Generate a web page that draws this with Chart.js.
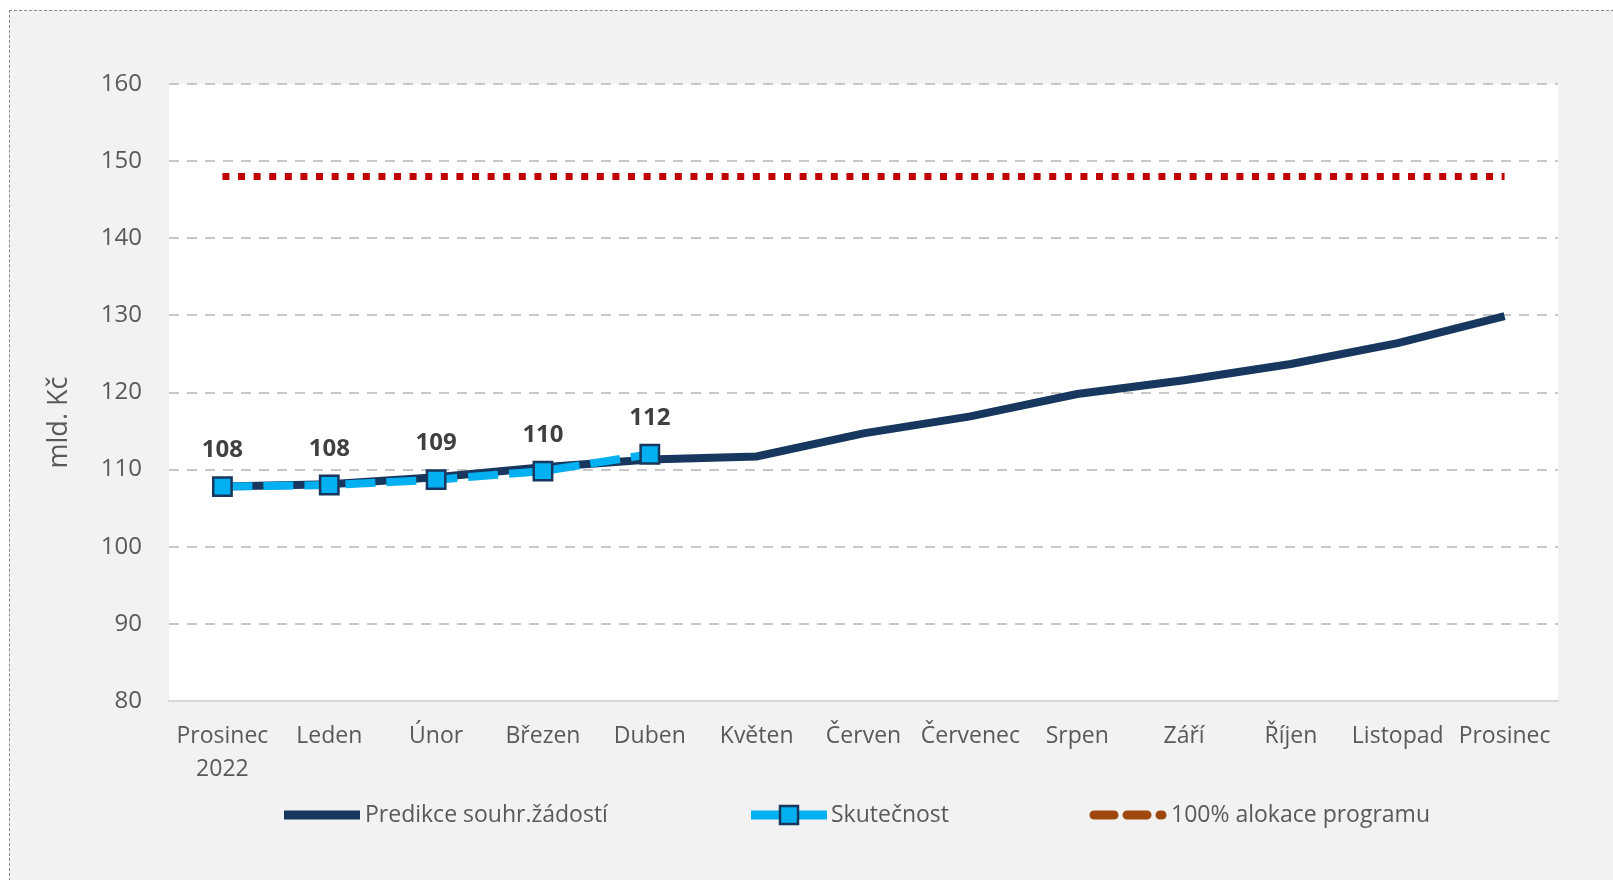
<!DOCTYPE html>
<html>
<head>
<meta charset="utf-8">
<script src="https://cdn.jsdelivr.net/npm/chart.js@4.4.1/dist/chart.umd.min.js"></script>
<style>
  html, body { margin: 0; padding: 0; background: #ffffff; overflow: hidden; }
  #frame { position: absolute; left: 9px; top: 10px; width: 1604px; height: 870px;
           border-left: 1px dashed #8c8c8c; border-top: 1px dashed #8c8c8c; background: #f2f2f2; }
  canvas { display: block; }
</style>
</head>
<body>
<div id="frame"><canvas id="chart" width="1604" height="870"></canvas></div>
<script>
// months on the x axis
const months = [['Prosinec', '2022'], 'Leden', 'Únor', 'Březen', 'Duben', 'Květen', 'Červen',
                'Červenec', 'Srpen', 'Září', 'Říjen', 'Listopad', 'Prosinec'];
// mld. Kč
const prediction = [107.8, 108.1, 109.0, 110.3, 111.3, 111.7, 114.7, 116.9, 119.8, 121.6, 123.7, 126.4, 129.9];
const actual = [107.8, 108.0, 108.7, 109.8, 112.0];
const allocation = [148, 148, 148, 148, 148, 148, 148, 148, 148, 148, 148, 148, 148];
const seriesNames = ['Predikce souhr.žádostí', 'Skutečnost', '100% alokace programu'];
const axisTitle = 'mld. Kč';
const yMin = 80, yMax = 160, yStep = 10;

const FONT = "'Open Sans', 'Noto Sans', sans-serif";
const TEXT = '#595959';
const NAVY = '#17375E';
const CYAN = '#00B0F0';
const RED = '#C00000';
const BROWN = '#9E480E';

Chart.defaults.font.family = FONT;
Chart.defaults.color = TEXT;

// white plot area on grey chart background
const plotBg = {
    id: 'plotBg',
    beforeDraw(chart) {
        const { ctx, chartArea: a } = chart;
        ctx.save();
        ctx.fillStyle = '#ffffff';
        ctx.fillRect(a.left, a.top, a.right - a.left, a.bottom - a.top);
        ctx.restore();
    }
};

// value labels above the Skutečnost markers
const valueLabels = {
    id: 'valueLabels',
    afterDatasetsDraw(chart) {
        const { ctx } = chart;
        const meta = chart.getDatasetMeta(1);
        ctx.save();
        ctx.font = 'bold 24px ' + FONT;
        ctx.fillStyle = '#404040';
        ctx.textAlign = 'center';
        ctx.textBaseline = 'middle';
        meta.data.forEach((pt, i) => {
            const v = actual[i];
            if (v == null) return;
            ctx.fillText(String(Math.round(v)), pt.x, pt.y - 36);
        });
        ctx.restore();
    }
};

// axis title + legend drawn like the Excel original
const extras = {
    id: 'extras',
    afterDraw(chart) {
        const { ctx, chartArea: a } = chart;
        ctx.save();
        ctx.fillStyle = TEXT;
        ctx.font = '27px ' + FONT;
        ctx.textAlign = 'center';
        ctx.textBaseline = 'middle';
        ctx.translate(49, (a.top + a.bottom) / 2 + 30);
        ctx.rotate(-Math.PI / 2);
        ctx.fillText(axisTitle, 0, 0);
        ctx.restore();

        const y = 804;
        ctx.save();
        ctx.font = '23px ' + FONT;
        ctx.textBaseline = 'middle';
        ctx.textAlign = 'left';
        ctx.fillStyle = TEXT;

        // Predikce
        ctx.fillStyle = NAVY;
        ctx.fillRect(274, y - 4.5, 76, 9);
        ctx.fillStyle = TEXT;
        ctx.fillText(seriesNames[0], 355, y);

        // Skutečnost
        ctx.fillStyle = CYAN;
        ctx.fillRect(741, y - 4.5, 76, 9);
        ctx.fillStyle = CYAN;
        ctx.strokeStyle = NAVY;
        ctx.lineWidth = 2.5;
        ctx.fillRect(770, y - 9, 18, 18);
        ctx.strokeRect(770, y - 9, 18, 18);
        ctx.fillStyle = TEXT;
        ctx.fillText(seriesNames[1], 821, y);

        // 100% alokace
        ctx.strokeStyle = BROWN;
        ctx.lineWidth = 9;
        ctx.lineCap = 'round';
        ctx.setLineDash([20, 13]);
        ctx.beginPath();
        ctx.moveTo(1084, y);
        ctx.lineTo(1152, y);
        ctx.stroke();
        ctx.setLineDash([]);
        ctx.fillStyle = TEXT;
        ctx.fillText(seriesNames[2], 1161, y);
        ctx.restore();
    }
};

new Chart(document.getElementById('chart'), {
    type: 'line',
    data: {
        labels: months,
        datasets: [
            {
                label: seriesNames[0],
                data: prediction,
                borderColor: NAVY,
                borderWidth: 8,
                pointRadius: 0,
                tension: 0,
                order: 2
            },
            {
                label: seriesNames[1],
                data: actual,
                borderColor: CYAN,
                borderWidth: 8,
                borderDash: [30, 11],
                pointStyle: 'rect',
                pointRadius: 13,
                pointBackgroundColor: CYAN,
                pointBorderColor: NAVY,
                pointBorderWidth: 2.5,
                tension: 0,
                order: 1
            },
            {
                label: seriesNames[2],
                data: allocation,
                borderColor: RED,
                borderWidth: 7,
                borderDash: [7, 8.6],
                borderCapStyle: 'butt',
                pointRadius: 0,
                order: 3
            }
        ]
    },
    options: {
        responsive: false,
        animation: false,
        events: [],
        layout: { padding: { left: 0, right: 56, top: 73, bottom: 0 } },
        plugins: {
            legend: { display: false },
            tooltip: { enabled: false }
        },
        scales: {
            x: {
                offset: true,
                grid: { display: false, drawTicks: false },
                border: { display: true, color: '#d9d9d9', width: 2 },
                ticks: {
                    autoSkip: false,
                    maxRotation: 0,
                    padding: 19,
                    color: TEXT,
                    font: { size: 23, lineHeight: 1.43 }
                },
                afterFit(scale) { scale.height = 180; }
            },
            y: {
                min: yMin,
                max: yMax,
                ticks: {
                    stepSize: yStep,
                    padding: 27,
                    color: TEXT,
                    font: { size: 24 }
                },
                grid: {
                    drawTicks: false,
                    lineWidth: 2,
                    color: ctx => ctx.tick && ctx.tick.value === yMin ? 'rgba(0,0,0,0)' : '#c8c8c8'
                },
                border: { display: false, dash: [10, 8] },
                afterFit(scale) { scale.width = 159; }
            }
        }
    },
    plugins: [plotBg, valueLabels, extras]
});
</script>
</body>
</html>
